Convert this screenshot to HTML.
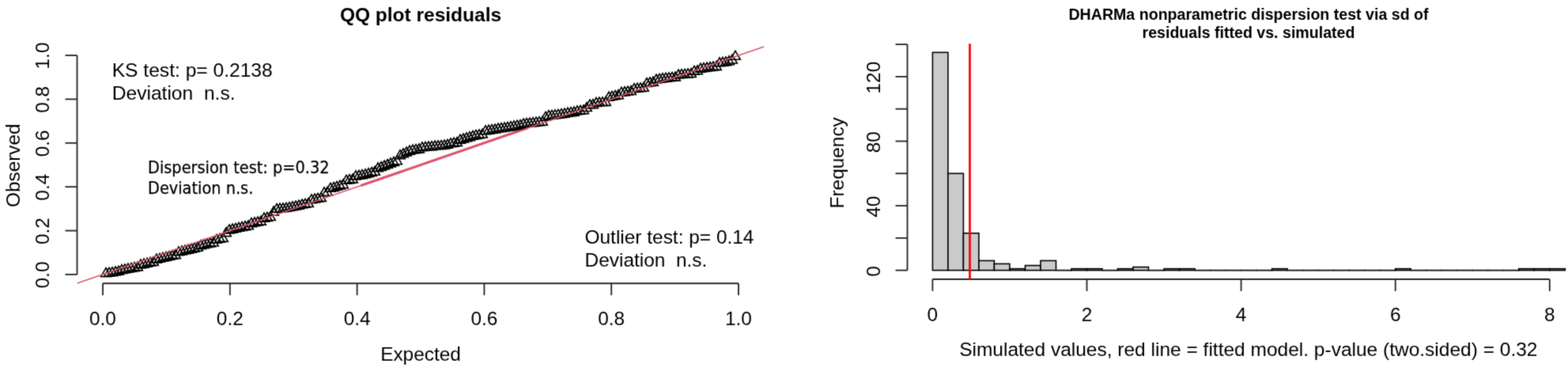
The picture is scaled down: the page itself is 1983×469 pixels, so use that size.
<!DOCTYPE html>
<html lang="en"><head><meta charset="utf-8"><title>DHARMa residual diagnostics</title>
<style>
html,body{margin:0;padding:0;background:#fff;}
body{width:1983px;height:469px;overflow:hidden;}
svg{display:block;}
text{font-family:"Liberation Sans",sans-serif;fill:#000;}
.ax{stroke:#262626;stroke-width:1.85;fill:none;stroke-linecap:butt;}
.t{font-size:24.4px;}
.an{font-size:24.6px;}
.b{font-weight:bold;}
.m{text-anchor:middle;}
.pt{fill:none;stroke:#000;stroke-width:1.6;stroke-linejoin:miter;}
.bar{fill:#cacaca;stroke:#000;stroke-width:1.6;}
.hum{font-family:"DejaVu Sans Condensed","DejaVu Sans","Liberation Sans",sans-serif;font-stretch:condensed;font-size:21.5px;stroke:#000;stroke-width:0.25px;}
</style></head><body>
<svg width="1983" height="469" viewBox="0 0 1983 469">
<defs><filter id="soft" x="0" y="0" width="1983" height="469" filterUnits="userSpaceOnUse" color-interpolation-filters="sRGB"><feConvolveMatrix order="3" kernelMatrix="0.02 0.1 0.02 0.1 0.52 0.1 0.02 0.1 0.02" divisor="1" edgeMode="duplicate" preserveAlpha="true"/></filter></defs>
<g filter="url(#soft)">
<rect width="1983" height="469" fill="#fff"/>
<g id="qq">
<text class="t b m" x="532" y="27.2" style="font-size:24.5px">QQ plot residuals</text>
<text class="t m" x="532" y="456.4">Expected</text>
<text class="t m" transform="translate(24.5,209.2) rotate(-90)">Observed</text>
<path class="ax" d="M97.5,347.0V70.0"/>
<path class="ax" d="M82.5,347.0H97.5"/>
<text class="t m" transform="translate(62,347.5) rotate(-90)">0.0</text>
<path class="ax" d="M82.5,291.6H97.5"/>
<text class="t m" transform="translate(62,292.1) rotate(-90)">0.2</text>
<path class="ax" d="M82.5,236.2H97.5"/>
<text class="t m" transform="translate(62,236.7) rotate(-90)">0.4</text>
<path class="ax" d="M82.5,180.8H97.5"/>
<text class="t m" transform="translate(62,181.3) rotate(-90)">0.6</text>
<path class="ax" d="M82.5,125.4H97.5"/>
<text class="t m" transform="translate(62,125.9) rotate(-90)">0.8</text>
<path class="ax" d="M82.5,70.0H97.5"/>
<text class="t m" transform="translate(62,70.5) rotate(-90)">1.0</text>
<path class="ax" d="M130.0,358.2H934.0"/>
<path class="ax" d="M130.0,358.2V373.2"/>
<text class="t m" x="130.0" y="411.3">0.0</text>
<path class="ax" d="M290.8,358.2V373.2"/>
<text class="t m" x="290.8" y="411.3">0.2</text>
<path class="ax" d="M451.6,358.2V373.2"/>
<text class="t m" x="451.6" y="411.3">0.4</text>
<path class="ax" d="M612.4,358.2V373.2"/>
<text class="t m" x="612.4" y="411.3">0.6</text>
<path class="ax" d="M773.2,358.2V373.2"/>
<text class="t m" x="773.2" y="411.3">0.8</text>
<path class="ax" d="M934.0,358.2V373.2"/>
<text class="t m" x="934.0" y="411.3">1.0</text>
<path d="M456.5,234.5L668.0,161.6" stroke="#df536b" stroke-width="3.2" fill="none"/>
<path class="pt" d="M134.0,338.7L140.3,349.7H127.7ZM138.0,338.3L144.3,349.3H131.7ZM142.0,337.8L148.3,348.7H135.7ZM146.0,337.0L152.3,348.0H139.7ZM150.0,336.3L156.3,347.3H143.7ZM154.0,334.7L160.3,345.6H147.7ZM158.0,334.0L164.3,344.9H151.7ZM162.0,333.2L168.3,344.2H155.7ZM166.0,332.5L172.3,343.4H159.7ZM170.0,331.7L176.3,342.7H163.7ZM174.0,331.0L180.3,341.9H167.7ZM178.0,328.0L184.3,338.9H171.7ZM182.0,327.2L188.3,338.1H175.7ZM186.0,326.3L192.3,337.2H179.7ZM190.0,325.4L196.3,336.3H183.7ZM194.0,324.5L200.3,335.4H187.7ZM198.0,321.2L204.3,332.1H191.7ZM202.0,320.3L208.3,331.2H195.7ZM206.0,319.3L212.3,330.3H199.7ZM210.0,318.4L216.3,329.4H203.7ZM214.0,317.5L220.3,328.4H207.7ZM218.0,316.6L224.3,327.5H211.7ZM222.0,315.6L228.3,326.6H215.7ZM226.0,311.9L232.3,322.8H219.7ZM230.0,311.0L236.3,321.9H223.7ZM234.0,310.0L240.3,321.0H227.7ZM238.0,309.1L244.3,320.1H231.7ZM242.0,308.2L248.3,319.1H235.7ZM246.0,307.3L252.3,318.2H239.7ZM250.0,306.4L256.3,317.3H243.7ZM254.0,303.7L260.3,314.6H247.7ZM258.0,302.7L264.3,313.7H251.7ZM262.0,301.8L268.3,312.8H255.7ZM266.0,301.0L272.3,311.9H259.7ZM270.0,300.1L276.3,311.0H263.7ZM274.0,296.3L280.3,307.2H267.7ZM278.0,295.4L284.3,306.3H271.7ZM282.0,294.5L288.3,305.4H275.7ZM286.0,287.6L292.3,298.6H279.7ZM290.0,284.0L296.3,294.9H283.7ZM294.0,283.1L300.3,294.1H287.7ZM298.0,282.3L304.3,293.2H291.7ZM302.0,281.4L308.3,292.3H295.7ZM306.0,280.5L312.3,291.5H299.7ZM310.0,279.7L316.3,290.6H303.7ZM314.0,278.8L320.3,289.8H307.7ZM318.0,275.7L324.3,286.6H311.7ZM322.0,274.8L328.3,285.8H315.7ZM326.0,274.0L332.3,284.9H319.7ZM330.0,273.2L336.3,284.1H323.7ZM334.0,269.2L340.3,280.2H327.7ZM338.0,268.4L344.3,279.4H331.7ZM342.0,267.6L348.3,278.5H335.7ZM346.0,261.2L352.3,272.1H339.7ZM350.0,257.5L356.3,268.4H343.7ZM354.0,257.2L360.3,268.1H347.7ZM358.0,256.9L364.3,267.8H351.7ZM362.0,256.4L368.3,267.3H355.7ZM366.0,255.6L372.3,266.5H359.7ZM370.0,254.8L376.3,265.7H363.7ZM374.0,254.0L380.3,264.9H367.7ZM378.0,253.2L384.3,264.1H371.7ZM382.0,252.0L388.3,263.0H375.7ZM386.0,251.3L392.3,262.2H379.7ZM390.0,250.5L396.3,261.5H383.7ZM394.0,245.8L400.3,256.7H387.7ZM398.0,245.0L404.3,255.9H391.7ZM402.0,244.3L408.3,255.2H395.7ZM406.0,243.5L412.3,254.4H399.7ZM410.0,236.9L416.3,247.8H403.7ZM414.0,236.3L420.3,247.2H407.7ZM418.0,231.4L424.3,242.3H411.7ZM422.0,230.5L428.3,241.4H415.7ZM426.0,229.3L432.3,240.2H419.7ZM430.0,228.0L436.3,239.0H423.7ZM434.0,226.8L440.3,237.7H427.7ZM438.0,221.3L444.3,232.2H431.7ZM442.0,220.6L448.3,231.6H435.7ZM446.0,220.0L452.3,230.9H439.7ZM450.0,215.9L456.3,226.9H443.7ZM454.0,215.3L460.3,226.3H447.7ZM458.0,214.7L464.3,225.6H451.7ZM462.0,213.8L468.3,224.7H455.7ZM466.0,212.7L472.3,223.6H459.7ZM470.0,211.5L476.3,222.4H463.7ZM474.0,210.3L480.3,221.3H467.7ZM478.0,205.9L484.3,216.8H471.7ZM482.0,204.5L488.3,215.5H475.7ZM486.0,203.0L492.3,213.9H479.7ZM490.0,201.5L496.3,212.4H483.7ZM494.0,199.9L500.3,210.9H487.7ZM498.0,198.4L504.3,209.4H491.7ZM502.0,196.7L508.3,207.7H495.7ZM506.0,189.6L512.3,200.6H499.7ZM510.0,187.8L516.3,198.8H503.7ZM514.0,186.0L520.3,196.9H507.7ZM518.0,184.2L524.3,195.1H511.7ZM522.0,183.0L528.3,193.9H515.7ZM526.0,182.5L532.3,193.4H519.7ZM530.0,181.9L536.3,192.9H523.7ZM534.0,179.9L540.3,190.8H527.7ZM538.0,179.4L544.3,190.3H531.7ZM542.0,179.0L548.3,189.9H535.7ZM546.0,178.7L552.3,189.6H539.7ZM550.0,178.0L556.3,189.0H543.7ZM554.0,177.8L560.3,188.7H547.7ZM558.0,177.5L564.3,188.4H551.7ZM562.0,177.0L568.3,187.9H555.7ZM566.0,176.3L572.3,187.2H559.7ZM570.0,174.9L576.3,185.8H563.7ZM574.0,174.2L580.3,185.1H567.7ZM578.0,173.5L584.3,184.4H571.7ZM582.0,170.2L588.3,181.2H575.7ZM586.0,169.0L592.3,180.0H579.7ZM590.0,167.8L596.3,178.8H583.7ZM594.0,166.6L600.3,177.6H587.7ZM598.0,165.4L604.3,176.3H591.7ZM602.0,164.4L608.3,175.4H595.7ZM606.0,163.8L612.3,174.7H599.7ZM610.0,163.1L616.3,174.0H603.7ZM614.0,158.8L620.3,169.7H607.7ZM618.0,158.1L624.3,169.1H611.7ZM622.0,157.5L628.3,168.5H615.7ZM626.0,157.0L632.3,168.0H619.7ZM630.0,156.0L636.3,166.9H623.7ZM634.0,155.5L640.3,166.4H627.7ZM638.0,155.0L644.3,165.9H631.7ZM642.0,154.3L648.3,165.3H635.7ZM646.0,153.6L652.3,164.6H639.7ZM650.0,152.9L656.3,163.9H643.7ZM654.0,152.2L660.3,163.2H647.7ZM658.0,151.5L664.3,162.4H651.7ZM662.0,150.0L668.3,160.9H655.7ZM666.0,149.5L672.3,160.5H659.7ZM670.0,149.1L676.3,160.0H663.7ZM674.0,148.6L680.3,159.6H667.7ZM678.0,148.2L684.3,159.1H671.7ZM682.0,147.7L688.3,158.6H675.7ZM686.0,147.3L692.3,158.2H679.7ZM690.0,141.3L696.3,152.2H683.7ZM694.0,139.6L700.3,150.6H687.7ZM698.0,139.3L704.3,150.2H691.7ZM702.0,138.8L708.3,149.7H695.7ZM706.0,138.3L712.3,149.2H699.7ZM710.0,137.7L716.3,148.6H703.7ZM714.0,137.2L720.3,148.1H707.7ZM718.0,136.2L724.3,147.1H711.7ZM722.0,135.7L728.3,146.6H715.7ZM726.0,135.2L732.3,146.1H719.7ZM730.0,133.9L736.3,144.8H723.7ZM734.0,133.4L740.3,144.3H727.7ZM738.0,132.8L744.3,143.8H731.7ZM742.0,129.6L748.3,140.5H735.7ZM746.0,126.0L752.3,137.0H739.7ZM750.0,125.7L756.3,136.7H743.7ZM754.0,123.4L760.3,134.4H747.7ZM758.0,123.1L764.3,134.0H751.7ZM762.0,122.8L768.3,133.7H755.7ZM766.0,122.4L772.3,133.4H759.7ZM770.0,116.2L776.3,127.2H763.7ZM774.0,115.4L780.3,126.3H767.7ZM778.0,114.5L784.3,125.4H771.7ZM782.0,113.7L788.3,124.7H775.7ZM786.0,110.3L792.3,121.2H779.7ZM790.0,109.7L796.3,120.6H783.7ZM794.0,109.1L800.3,120.0H787.7ZM798.0,108.5L804.3,119.5H791.7ZM802.0,105.6L808.3,116.5H795.7ZM806.0,105.2L812.3,116.1H799.7ZM810.0,104.8L816.3,115.7H803.7ZM814.0,104.4L820.3,115.3H807.7ZM818.0,98.6L824.3,109.5H811.7ZM822.0,97.8L828.3,108.8H815.7ZM826.0,97.2L832.3,108.1H819.7ZM830.0,94.0L836.3,104.9H823.7ZM834.0,93.4L840.3,104.3H827.7ZM838.0,92.7L844.3,103.7H831.7ZM842.0,92.2L848.3,103.1H835.7ZM846.0,91.8L852.3,102.7H839.7ZM850.0,91.4L856.3,102.3H843.7ZM854.0,91.0L860.3,101.9H847.7ZM858.0,88.0L864.3,98.9H851.7ZM862.0,87.6L868.3,98.5H855.7ZM866.0,87.3L872.3,98.2H859.7ZM870.0,86.9L876.3,97.9H863.7ZM874.0,86.6L880.3,97.5H867.7ZM878.0,83.4L884.3,94.3H871.7ZM882.0,82.8L888.3,93.8H875.7ZM886.0,80.1L892.3,91.1H879.7ZM890.0,79.6L896.3,90.5H883.7ZM894.0,79.0L900.3,90.0H887.7ZM898.0,78.5L904.3,89.4H891.7ZM902.0,78.0L908.3,88.9H895.7ZM906.0,77.5L912.3,88.4H899.7ZM910.0,72.9L916.3,83.8H903.7ZM914.0,72.3L920.3,83.3H907.7ZM918.0,71.8L924.3,82.7H911.7ZM922.0,70.8L928.3,81.7H915.7ZM926.0,69.1L932.3,80.0H919.7ZM930.0,64.4L936.3,75.3H923.7Z"/>
<path d="M97.8,358.1L966.2,58.9" stroke="#df536b" stroke-width="1.6" fill="none"/>
<text class="an" x="141.7" y="97.2">KS test: p= 0.2138</text>
<text class="an" x="141.7" y="126.2">Deviation&#160;&#160;n.s.</text>
<text class="hum" x="187" y="219">Dispersion test: p=0.32</text>
<text class="hum" x="187" y="245.2">Deviation n.s.</text>
<text class="an" style="font-size:24.45px" x="739.5" y="307.7">Outlier test: p= 0.14</text>
<text class="an" style="font-size:24.45px" x="739.5" y="336.7">Deviation&#160;&#160;n.s.</text>
</g>
<g id="hist">
<text class="b m" x="1579" y="25.3" style="font-size:19.6px">DHARMa nonparametric dispersion test via sd of</text>
<text class="b m" x="1579" y="48.3" style="font-size:19.6px">residuals fitted vs. simulated</text>
<text class="t m" style="font-size:24.5px" x="1578.8" y="450.3">Simulated values, red line = fitted model. p-value (two.sided) = 0.32</text>
<text class="t m" transform="translate(1067.3,205.8) rotate(-90)">Frequency</text>
<rect class="bar" x="1179.4" y="66.3" width="19.5" height="275.4"/>
<rect class="bar" x="1198.9" y="219.3" width="19.5" height="122.4"/>
<rect class="bar" x="1218.4" y="294.8" width="19.5" height="46.9"/>
<rect class="bar" x="1237.9" y="329.5" width="19.5" height="12.2"/>
<rect class="bar" x="1257.4" y="333.5" width="19.5" height="8.2"/>
<rect class="bar" x="1277.0" y="339.7" width="19.5" height="2.0"/>
<rect class="bar" x="1296.5" y="335.6" width="19.5" height="6.1"/>
<rect class="bar" x="1316.0" y="329.5" width="19.5" height="12.2"/>
<path class="ax" d="M1335.5,340.7V342.5M1335.5,341.7H1355.0M1355.0,340.7V342.5"/>
<rect class="bar" x="1355.0" y="339.7" width="19.5" height="2.0"/>
<rect class="bar" x="1374.5" y="339.7" width="19.5" height="2.0"/>
<path class="ax" d="M1394.0,340.7V342.5M1394.0,341.7H1413.5M1413.5,340.7V342.5"/>
<rect class="bar" x="1413.5" y="339.7" width="19.5" height="2.0"/>
<rect class="bar" x="1433.0" y="337.6" width="19.5" height="4.1"/>
<path class="ax" d="M1452.5,340.7V342.5M1452.5,341.7H1472.1M1472.1,340.7V342.5"/>
<rect class="bar" x="1472.1" y="339.7" width="19.5" height="2.0"/>
<rect class="bar" x="1491.6" y="339.7" width="19.5" height="2.0"/>
<path class="ax" d="M1511.1,340.7V342.5M1511.1,341.7H1530.6M1530.6,340.7V342.5"/>
<path class="ax" d="M1530.6,340.7V342.5M1530.6,341.7H1550.1M1550.1,340.7V342.5"/>
<path class="ax" d="M1550.1,340.7V342.5M1550.1,341.7H1569.6M1569.6,340.7V342.5"/>
<path class="ax" d="M1569.6,340.7V342.5M1569.6,341.7H1589.1M1589.1,340.7V342.5"/>
<path class="ax" d="M1589.1,340.7V342.5M1589.1,341.7H1608.6M1608.6,340.7V342.5"/>
<rect class="bar" x="1608.6" y="339.7" width="19.5" height="2.0"/>
<path class="ax" d="M1628.1,340.7V342.5M1628.1,341.7H1647.6M1647.6,340.7V342.5"/>
<path class="ax" d="M1647.6,340.7V342.5M1647.6,341.7H1667.2M1667.2,340.7V342.5"/>
<path class="ax" d="M1667.2,340.7V342.5M1667.2,341.7H1686.7M1686.7,340.7V342.5"/>
<path class="ax" d="M1686.7,340.7V342.5M1686.7,341.7H1706.2M1706.2,340.7V342.5"/>
<path class="ax" d="M1706.2,340.7V342.5M1706.2,341.7H1725.7M1725.7,340.7V342.5"/>
<path class="ax" d="M1725.7,340.7V342.5M1725.7,341.7H1745.2M1745.2,340.7V342.5"/>
<path class="ax" d="M1745.2,340.7V342.5M1745.2,341.7H1764.7M1764.7,340.7V342.5"/>
<rect class="bar" x="1764.7" y="339.7" width="19.5" height="2.0"/>
<path class="ax" d="M1784.2,340.7V342.5M1784.2,341.7H1803.7M1803.7,340.7V342.5"/>
<path class="ax" d="M1803.7,340.7V342.5M1803.7,341.7H1823.2M1823.2,340.7V342.5"/>
<path class="ax" d="M1823.2,340.7V342.5M1823.2,341.7H1842.7M1842.7,340.7V342.5"/>
<path class="ax" d="M1842.7,340.7V342.5M1842.7,341.7H1862.2M1862.2,340.7V342.5"/>
<path class="ax" d="M1862.2,340.7V342.5M1862.2,341.7H1881.8M1881.8,340.7V342.5"/>
<path class="ax" d="M1881.8,340.7V342.5M1881.8,341.7H1901.3M1901.3,340.7V342.5"/>
<path class="ax" d="M1901.3,340.7V342.5M1901.3,341.7H1920.8M1920.8,340.7V342.5"/>
<rect class="bar" x="1920.8" y="339.7" width="19.5" height="2.0"/>
<rect class="bar" x="1940.3" y="339.7" width="19.5" height="2.0"/>
<rect class="bar" x="1959.8" y="339.7" width="19.5" height="2.0"/>
<path class="ax" d="M1147.5,341.7V56.1"/>
<path class="ax" d="M1132.5,341.7H1147.5"/>
<path class="ax" d="M1132.5,300.9H1147.5"/>
<path class="ax" d="M1132.5,260.1H1147.5"/>
<path class="ax" d="M1132.5,219.3H1147.5"/>
<path class="ax" d="M1132.5,178.5H1147.5"/>
<path class="ax" d="M1132.5,137.7H1147.5"/>
<path class="ax" d="M1132.5,96.9H1147.5"/>
<path class="ax" d="M1132.5,56.1H1147.5"/>
<text class="t m" transform="translate(1112.5,342.9) rotate(-90)">0</text>
<text class="t m" transform="translate(1112.5,261.3) rotate(-90)">40</text>
<text class="t m" transform="translate(1112.5,179.7) rotate(-90)">80</text>
<text class="t m" transform="translate(1112.5,98.1) rotate(-90)">120</text>
<path class="ax" d="M1179.4,353.0H1959.8"/>
<path class="ax" d="M1179.4,353.0V368.0"/>
<text class="t m" x="1179.4" y="405.5">0</text>
<path class="ax" d="M1374.5,353.0V368.0"/>
<text class="t m" x="1374.5" y="405.5">2</text>
<path class="ax" d="M1569.6,353.0V368.0"/>
<text class="t m" x="1569.6" y="405.5">4</text>
<path class="ax" d="M1764.7,353.0V368.0"/>
<text class="t m" x="1764.7" y="405.5">6</text>
<path class="ax" d="M1959.8,353.0V368.0"/>
<text class="t m" x="1959.8" y="405.5">8</text>
<path d="M1226.5,55.3V353.0" stroke="#f00" stroke-width="2.7" fill="none"/>
</g>
</g>
</svg></body></html>
